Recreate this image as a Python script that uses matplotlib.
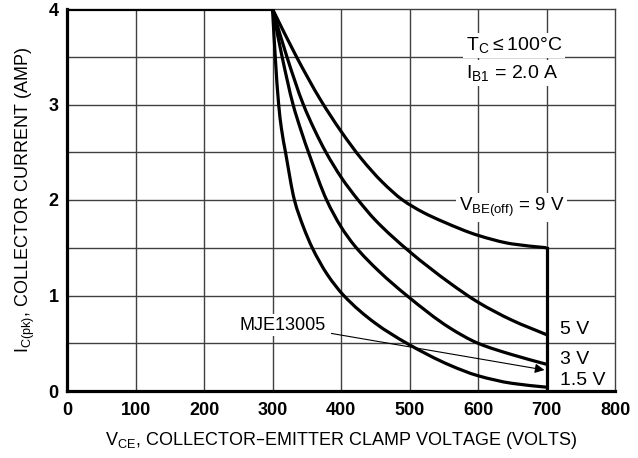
import matplotlib
matplotlib.use('Agg')
import matplotlib.pyplot as plt
from matplotlib.path import Path
from matplotlib.patches import PathPatch

plt.rcParams['font.family'] = ['Liberation Sans Narrow', 'Liberation Sans', 'DejaVu Sans']
plt.rcParams['mathtext.default'] = 'regular'

# curves, V_CE (volts) vs I_C(pk) (amps)
x15 = [300, 304, 309, 313, 319, 332, 345, 358, 380, 404, 450, 496, 559, 600, 650, 700]
y15 = [4.0, 3.5, 3.0, 2.75, 2.5, 2.0, 1.72, 1.5, 1.22, 1.0, 0.71, 0.5, 0.27, 0.16, 0.08, 0.04]
x3 = [300, 314, 330, 342, 354, 379, 400, 420, 456, 496, 559, 600, 650, 700]
y3 = [4.0, 3.5, 3.0, 2.72, 2.47, 2.0, 1.72, 1.52, 1.25, 1.0, 0.66, 0.5, 0.38, 0.28]
x5 = [300, 321, 345, 361, 378, 401, 425, 450, 500, 559, 600, 650, 700]
y5 = [4.0, 3.5, 3.0, 2.74, 2.5, 2.23, 2.0, 1.79, 1.46, 1.13, 0.93, 0.74, 0.59]
x9 = [300, 335, 370, 400, 430, 460, 490, 520, 550, 600, 650, 700]
y9 = [4.0, 3.5, 3.05, 2.72, 2.43, 2.19, 2.0, 1.87, 1.77, 1.63, 1.54, 1.5]

xticks = [0, 100, 200, 300, 400, 500, 600, 700, 800]
yticks = [0, 1, 2, 3, 4]


def smooth_path(xs, ys):
    # monotone cubic (Fritsch-Carlson) through the read points, as Bezier segments
    n = len(xs)
    h = [xs[i + 1] - xs[i] for i in range(n - 1)]
    d = [(ys[i + 1] - ys[i]) / h[i] for i in range(n - 1)]
    m = [d[0]] + [0.0] * (n - 2) + [d[-1]]
    for k in range(1, n - 1):
        if d[k - 1] * d[k] > 0:
            w1 = 2 * h[k] + h[k - 1]
            w2 = h[k] + 2 * h[k - 1]
            m[k] = (w1 + w2) / (w1 / d[k - 1] + w2 / d[k])
    verts = [(xs[0], ys[0])]
    codes = [Path.MOVETO]
    for i in range(n - 1):
        verts += [(xs[i] + h[i] / 3, ys[i] + m[i] * h[i] / 3),
                  (xs[i + 1] - h[i] / 3, ys[i + 1] - m[i + 1] * h[i] / 3),
                  (xs[i + 1], ys[i + 1])]
        codes += [Path.CURVE4] * 3
    return Path(verts, codes)


W, H = 638, 458
fig = plt.figure(figsize=(W/100, H/100), dpi=100)
ax = fig.add_axes([67/W, (H-391)/H, 548/W, 382/H])
ax.set_xlim(0, 800)
ax.set_ylim(0, 4)

# grid
for gx in range(100, 800, 100):
    ax.axvline(gx, color='#404040', lw=1.0, zorder=1)
for gy in [0.5, 1, 1.5, 2, 2.5, 3, 3.5]:
    ax.axhline(gy, color='#404040', lw=1.0, zorder=1)

lw = 2.3
ax.plot([0, 300], [4, 4], color='black', lw=lw, zorder=3, solid_capstyle='butt')
ax.plot([700, 700], [0, y9[-1]], color='black', lw=lw, zorder=3)
for xs, ys in [(x15, y15), (x3, y3), (x5, y5), (x9, y9)]:
    ax.add_patch(PathPatch(smooth_path(xs, ys), facecolor='none', edgecolor='black',
                           lw=lw, zorder=3, joinstyle='round'))

ax.set_xticks(xticks)
ax.set_yticks(yticks)
ax.tick_params(length=0, labelsize=13)
ax.tick_params(axis='x', pad=8)
ax.tick_params(axis='y', pad=6)
for lab in ax.get_xticklabels() + ax.get_yticklabels():
    lab.set_fontweight('bold')

for s in ['left', 'bottom']:
    ax.spines[s].set_linewidth(2.3)
for s in ['top', 'right']:
    ax.spines[s].set_linewidth(1.0)
    ax.spines[s].set_color('#404040')

bbox = dict(facecolor='white', edgecolor='none', pad=2)
ax.text(582, 3.62, r'$T_C \leq 100°C$', fontsize=14, ha='left', va='center', bbox=bbox, zorder=4)
ax.text(582, 3.33, r'$I_{B1}$ = 2.0 A', fontsize=14, ha='left', va='center', bbox=bbox, zorder=4)
ax.text(572, 1.92, r'$V_{BE(off)}$ = 9 V', fontsize=13.5, ha='left', va='center', bbox=bbox, zorder=4)
ax.text(719, 0.64, '5 V', fontsize=14, ha='left', va='center')
ax.text(719, 0.33, '3 V', fontsize=14, ha='left', va='center')
ax.text(719, 0.11, '1.5 V', fontsize=14, ha='left', va='center')

ax.annotate('MJE13005', xy=(697, 0.22), xytext=(378, 0.69), fontsize=13,
            ha='right', va='center', bbox=bbox, zorder=4,
            arrowprops=dict(arrowstyle='-|>', color='black', lw=0.8,
                            mutation_scale=14, shrinkA=2, shrinkB=0))

ax.set_xlabel(r'$V_{CE}$, COLLECTOR–EMITTER CLAMP VOLTAGE (VOLTS)', fontsize=13, labelpad=8)
ax.set_ylabel(r'$I_{C(pk)}$, COLLECTOR CURRENT (AMP)', fontsize=13, labelpad=8)

fig.savefig('out.png', dpi=100)
